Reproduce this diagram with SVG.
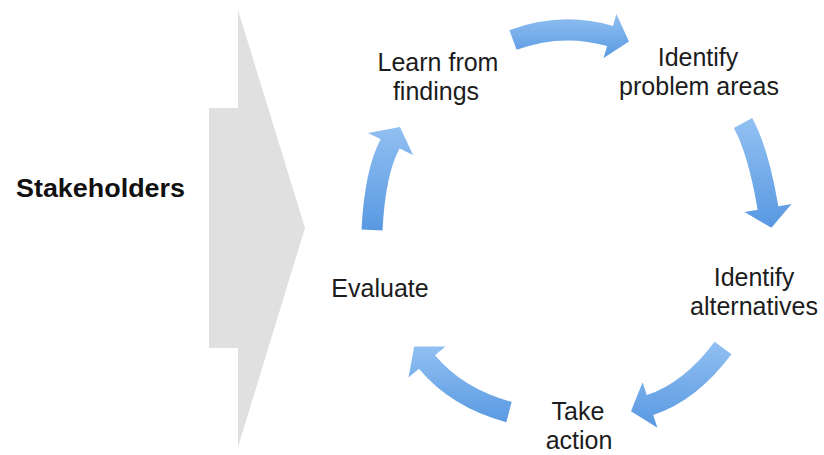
<svg xmlns="http://www.w3.org/2000/svg" width="824" height="455" viewBox="0 0 824 455">
  <style>
    .lbl { font-family: "Liberation Sans", Arial, sans-serif; font-size: 25px; fill: #1c1c1c; text-anchor: middle; }
    .stk { font-family: "Liberation Sans", Arial, sans-serif; font-size: 26px; font-weight: bold; fill: #111111; }
    .shaft { fill: none; stroke-width: 21; stroke-linecap: butt; }
  </style>
  <defs>
    <linearGradient id="g1" gradientUnits="userSpaceOnUse" x1="0" y1="13" x2="0" y2="60">
      <stop offset="0" stop-color="#92c0f2"/><stop offset="1" stop-color="#5898e1"/>
    </linearGradient>
    <linearGradient id="g2" gradientUnits="userSpaceOnUse" x1="0" y1="120" x2="0" y2="228">
      <stop offset="0" stop-color="#92c0f2"/><stop offset="1" stop-color="#5898e1"/>
    </linearGradient>
    <linearGradient id="g3" gradientUnits="userSpaceOnUse" x1="0" y1="340" x2="0" y2="430">
      <stop offset="0" stop-color="#92c0f2"/><stop offset="1" stop-color="#5898e1"/>
    </linearGradient>
    <linearGradient id="g4" gradientUnits="userSpaceOnUse" x1="0" y1="345" x2="0" y2="425">
      <stop offset="0" stop-color="#92c0f2"/><stop offset="1" stop-color="#5898e1"/>
    </linearGradient>
    <linearGradient id="g5" gradientUnits="userSpaceOnUse" x1="0" y1="125" x2="0" y2="232">
      <stop offset="0" stop-color="#92c0f2"/><stop offset="1" stop-color="#5898e1"/>
    </linearGradient>
  </defs>

  <g id="stakeholders">
    <polygon points="238,10 305,228 238,447 238,348 209,348 209,108 238,108" fill="#e0e0e0"/>
    <text class="stk" x="16" y="197" textLength="169" lengthAdjust="spacingAndGlyphs">Stakeholders</text>
  </g>

  <g id="connectors">
    <g id="arrow-learn-identify">
      <path class="shaft" stroke="url(#g1)" d="M513,40 Q562,22 610,36 L612.9,36.8"/>
      <polygon fill="url(#g1)" points="616.4,14 629,41.6 603.6,58"/>
    </g>
    <g id="arrow-problem-alternatives">
      <path class="shaft" stroke="url(#g2)" d="M743,123 Q758,150 768,208 L768.5,211"/>
      <polygon fill="url(#g2)" points="791.6,203.9 771.4,227.7 744.4,212.1"/>
    </g>
    <g id="arrow-alternatives-action">
      <path class="shaft" stroke="url(#g3)" d="M723,348 Q690,392 650,405 L647.2,405.9"/>
      <polygon fill="url(#g3)" points="642.6,382.2 631,411.2 657.4,427.8"/>
    </g>
    <g id="arrow-action-evaluate">
      <path class="shaft" stroke="url(#g4)" d="M509,412 Q457,398 427,362 L425.1,359.7"/>
      <polygon fill="url(#g4)" points="445.5,346.6 414.2,346.6 408.5,377.4"/>
    </g>
    <g id="arrow-evaluate-learn">
      <path class="shaft" stroke="url(#g5)" d="M372,230 Q375,172 390,144 L391.4,141.4"/>
      <polygon fill="url(#g5)" points="368,133 400,127 413,155"/>
    </g>
  </g>

  <g id="learn">
    <text class="lbl" x="438" y="71">Learn from</text>
    <text class="lbl" x="436" y="100">findings</text>
  </g>
  <g id="identify-problems">
    <text class="lbl" x="698" y="66">Identify</text>
    <text class="lbl" x="699" y="95">problem areas</text>
  </g>
  <g id="identify-alternatives">
    <text class="lbl" x="754" y="286">Identify</text>
    <text class="lbl" x="754" y="315">alternatives</text>
  </g>
  <g id="take-action">
    <text class="lbl" x="578" y="420">Take</text>
    <text class="lbl" x="579" y="449">action</text>
  </g>
  <g id="evaluate">
    <text class="lbl" x="380" y="297">Evaluate</text>
  </g>
</svg>
